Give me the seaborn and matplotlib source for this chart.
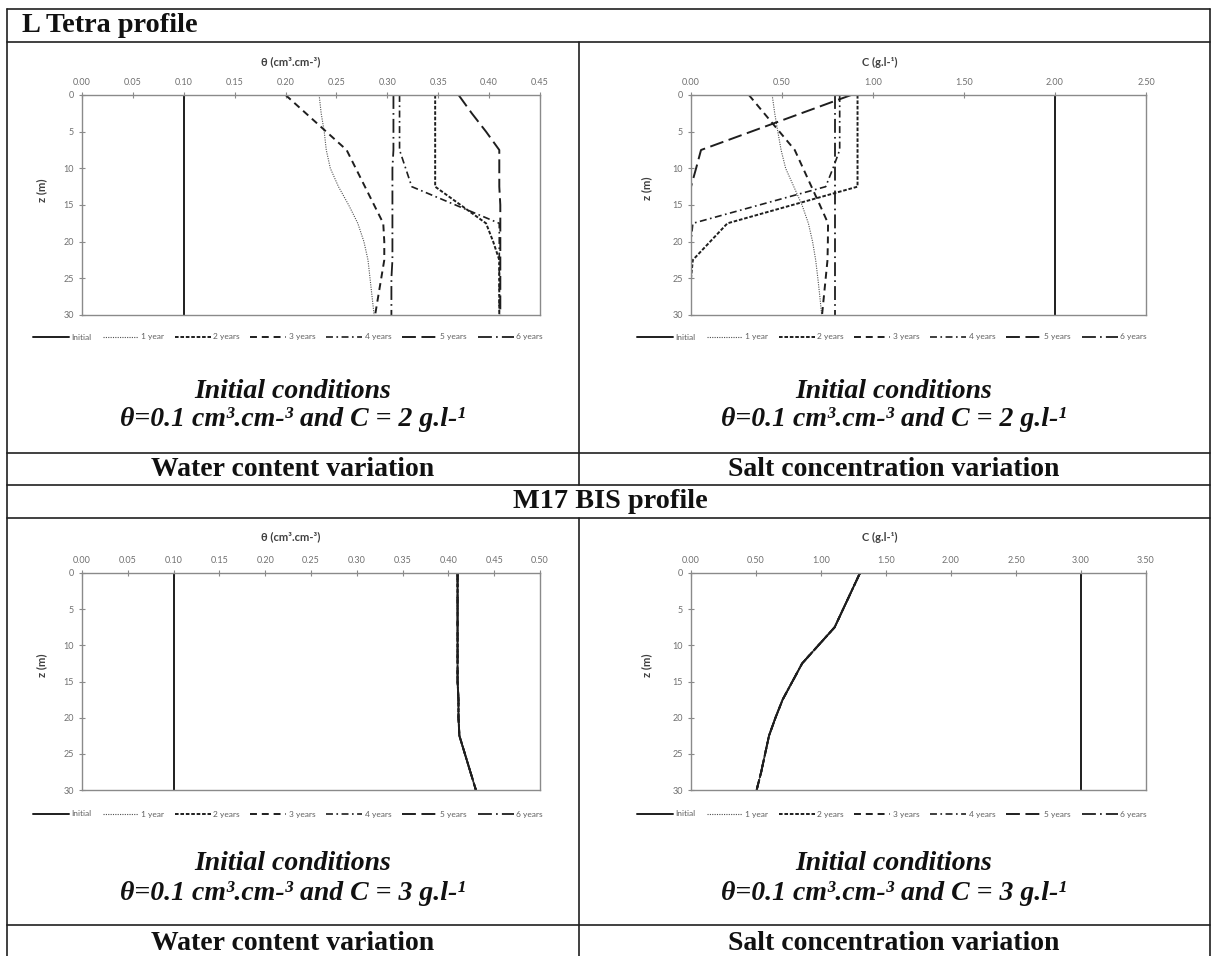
import matplotlib
matplotlib.use("Agg")
import matplotlib.pyplot as plt
import pandas as pd
import seaborn as sns
from matplotlib.lines import Line2D
from matplotlib.ticker import MultipleLocator, FormatStrFormatter

# ---------------- data ----------------
depth_m = [0, 2.5, 5, 7.5, 10, 12.5, 15, 17.5, 20, 22.5, 25, 27.5, 30]
series_labels = ["Initial", "1 year", "2 years", "3 years", "4 years", "5 years", "6 years"]

# L Tetra profile - water content theta (cm3.cm-3)
lt_theta_initial = [0.10, 0.10, 0.10, 0.10, 0.10, 0.10, 0.10, 0.10, 0.10, 0.10, 0.10, 0.10, 0.10]
lt_theta_1y = [0.233, 0.235, 0.238, 0.240, 0.244, 0.252, 0.262, 0.271, 0.277, 0.281, 0.283, 0.285, 0.287]
lt_theta_2y = [0.347, 0.347, 0.347, 0.347, 0.347, 0.347, 0.372, 0.397, 0.404, 0.410, 0.410, 0.410, 0.410]
lt_theta_3y = [0.200, 0.220, 0.240, 0.260, 0.269, 0.278, 0.287, 0.296, 0.297, 0.297, 0.294, 0.291, 0.288]
lt_theta_4y = [0.312, 0.312, 0.312, 0.312, 0.318, 0.324, 0.367, 0.410, 0.410, 0.410, 0.410, 0.410, 0.410]
lt_theta_5y = [0.370, 0.383, 0.397, 0.410, 0.410, 0.410, 0.411, 0.411, 0.411, 0.411, 0.411, 0.411, 0.411]
lt_theta_6y = [0.306, 0.306, 0.306, 0.306, 0.305, 0.305, 0.305, 0.305, 0.305, 0.305, 0.304, 0.304, 0.304]

# L Tetra profile - salt concentration C (g.l-1)
lt_c_initial = [2.0, 2.0, 2.0, 2.0, 2.0, 2.0, 2.0, 2.0, 2.0, 2.0, 2.0, 2.0, 2.0]
lt_c_1y = [0.446, 0.460, 0.477, 0.495, 0.520, 0.565, 0.610, 0.645, 0.668, 0.685, 0.697, 0.708, 0.718]
lt_c_2y = [0.915, 0.915, 0.915, 0.915, 0.915, 0.915, 0.557, 0.200, 0.105, 0.010, 0.000, 0.000, 0.000]
lt_c_3y = [0.318, 0.402, 0.486, 0.570, 0.616, 0.662, 0.708, 0.753, 0.752, 0.750, 0.740, 0.730, 0.720]
lt_c_4y = [0.817, 0.817, 0.817, 0.817, 0.780, 0.740, 0.375, 0.010, 0.000, 0.000, 0.000, 0.000, 0.000]
lt_c_5y = [0.880, 0.605, 0.330, 0.055, 0.028, 0.000, 0.000, 0.000, 0.000, 0.000, 0.000, 0.000, 0.000]
lt_c_6y = [0.790, 0.790, 0.790, 0.790, 0.790, 0.790, 0.790, 0.790, 0.790, 0.790, 0.790, 0.790, 0.790]

# M17 BIS profile (all years coincide)
m17_theta_initial = [0.10, 0.10, 0.10, 0.10, 0.10, 0.10, 0.10, 0.10, 0.10, 0.10, 0.10, 0.10, 0.10]
m17_theta_years = [0.410, 0.410, 0.410, 0.410, 0.410, 0.410, 0.410, 0.411, 0.411, 0.412, 0.418, 0.424, 0.430]
m17_c_initial = [3.0, 3.0, 3.0, 3.0, 3.0, 3.0, 3.0, 3.0, 3.0, 3.0, 3.0, 3.0, 3.0]
m17_c_years = [1.300, 1.235, 1.170, 1.105, 0.980, 0.855, 0.780, 0.705, 0.650, 0.600, 0.570, 0.540, 0.505]

# ---------------- style ----------------
sns.set_theme(style="white")
plt.rcParams['font.family'] = ['Lato', 'DejaVu Sans']
plt.rcParams['lines.scale_dashes'] = False

W, H = 1215, 956
fig = plt.figure(figsize=(W / 100, H / 100), dpi=100)


def fx(x):
    return x / W


def fy(y):
    return 1 - y / H


line_styles = {
    "Initial": dict(linestyle='-', linewidth=1.4, color='#1e1e1e'),
    "1 year": dict(linestyle=(0, (0.8, 0.9)), linewidth=0.8, color='#505050'),
    "2 years": dict(linestyle=(0, (2.6, 1.3)), linewidth=1.4, color='#1e1e1e'),
    "3 years": dict(linestyle=(0, (5, 3.5)), linewidth=1.4, color='#1e1e1e'),
    "4 years": dict(linestyle=(0, (5, 2.5, 1.2, 2.5)), linewidth=1.2, color='#1e1e1e'),
    "5 years": dict(linestyle=(0, (10, 4)), linewidth=1.4, color='#1e1e1e'),
    "6 years": dict(linestyle=(0, (10, 3, 1.2, 3)), linewidth=1.3, color='#1e1e1e'),
}

GRAY = '#8a8a8a'


def make_panel(x0, x1, y0, y1, xmax, xstep, series, xlabel, xlab_pos, zlab_pos, leg_pos):
    ax = fig.add_axes([fx(x0), fy(y1), fx(x1) - fx(x0), fy(y0) - fy(y1)])
    for name, vals in zip(series_labels, series):
        df = pd.DataFrame({"value": vals, "depth": depth_m})
        sns.lineplot(data=df, x="value", y="depth", orient="y", sort=False,
                     estimator=None, ax=ax, label=name, legend=False,
                     **line_styles[name])
    ax.set_xlim(0, xmax)
    ax.set_ylim(30, 0)
    ax.set_xlabel("")
    ax.set_ylabel("")
    ax.xaxis.tick_top()
    ax.xaxis.set_major_locator(MultipleLocator(xstep))
    ax.xaxis.set_major_formatter(FormatStrFormatter('%.2f'))
    ax.yaxis.set_major_locator(MultipleLocator(5))
    ax.yaxis.set_major_formatter(FormatStrFormatter('%d'))
    ax.tick_params(axis='x', top=True, bottom=False, labeltop=True, labelbottom=False)
    ax.tick_params(axis='y', left=True, right=False)
    ax.tick_params(axis='both', direction='inout', length=4, width=0.8, color=GRAY,
                   labelsize=6.5, labelcolor='#707070', pad=4)
    for sp in ax.spines.values():
        sp.set_visible(True)
        sp.set_color(GRAY)
        sp.set_linewidth(1.0)
    fig.text(fx(xlab_pos[0]), fy(xlab_pos[1]), xlabel, ha='center', va='center',
             fontsize=8, fontweight='bold', color='#404040')
    fig.text(fx(zlab_pos[0]), fy(zlab_pos[1]), "z (m)", ha='center', va='center',
             rotation=90, fontsize=8, fontweight='bold', color='#404040')
    ax.legend(loc='center', bbox_to_anchor=(fx(leg_pos[0]), fy(leg_pos[1])),
              bbox_transform=fig.transFigure, ncol=7, frameon=False, fontsize=6,
              handlelength=4.3, handletextpad=0.3, columnspacing=1.3,
              labelcolor='#606060', borderpad=0)
    return ax


# Top row: L Tetra
make_panel(82, 540, 95, 315, 0.45, 0.05,
           [lt_theta_initial, lt_theta_1y, lt_theta_2y, lt_theta_3y, lt_theta_4y, lt_theta_5y, lt_theta_6y],
           "θ (cm³.cm-³)", (291, 62), (42, 190), (288, 337))
make_panel(691, 1146, 95, 315, 2.5, 0.5,
           [lt_c_initial, lt_c_1y, lt_c_2y, lt_c_3y, lt_c_4y, lt_c_5y, lt_c_6y],
           "C (g.l-¹)", (880, 62), (647, 188), (892, 337))

# Bottom row: M17 BIS
make_panel(82, 540, 573, 790, 0.50, 0.05,
           [m17_theta_initial, m17_theta_years, m17_theta_years, m17_theta_years,
            m17_theta_years, m17_theta_years, m17_theta_years],
           "θ (cm³.cm-³)", (291, 537), (42, 665), (288, 814))
make_panel(691, 1146, 573, 790, 3.5, 0.5,
           [m17_c_initial, m17_c_years, m17_c_years, m17_c_years,
            m17_c_years, m17_c_years, m17_c_years],
           "C (g.l-¹)", (880, 537), (647, 665), (892, 814))

# ---------------- table grid ----------------
LC = '#202020'
LW = 1.2


def hline(y, x0=7, x1=1210):
    fig.add_artist(Line2D([fx(x0), fx(x1)], [fy(y), fy(y)], transform=fig.transFigure, color=LC, lw=LW))


def vline(x, y0, y1):
    fig.add_artist(Line2D([fx(x), fx(x)], [fy(y0), fy(y1)], transform=fig.transFigure, color=LC, lw=LW))


for yy in [9, 42, 453, 485, 518, 925]:
    hline(yy)
vline(7, 9, 956)
vline(1210, 9, 956)
vline(579, 42, 485)
vline(579, 518, 956)

# ---------------- table text ----------------
SERIF = 'Liberation Serif'
BIG = 20
fig.text(fx(22), fy(26), "L Tetra profile", ha='left', va='center', fontsize=20.3,
         fontweight='bold', family=SERIF, color='#111111')
fig.text(fx(610), fy(502), "M17 BIS profile", ha='center', va='center', fontsize=20.3,
         fontweight='bold', family=SERIF, color='#111111')

for cx, cap in [(293, "Water content variation"), (894, "Salt concentration variation")]:
    fig.text(fx(cx), fy(470), cap, ha='center', va='center', fontsize=BIG,
             fontweight='bold', family=SERIF, color='#111111')
    fig.text(fx(cx), fy(943), cap, ha='center', va='center', fontsize=BIG,
             fontweight='bold', family=SERIF, color='#111111')

for cx in [293, 894]:
    fig.text(fx(cx), fy(391), "Initial conditions", ha='center', va='center', fontsize=BIG,
             fontweight='bold', style='italic', family=SERIF, color='#111111')
    fig.text(fx(cx), fy(419), "θ=0.1 cm³.cm-³ and C = 2 g.l-¹", ha='center', va='center',
             fontsize=BIG, fontweight='bold', style='italic', family=SERIF, color='#111111')
    fig.text(fx(cx), fy(864), "Initial conditions", ha='center', va='center', fontsize=BIG,
             fontweight='bold', style='italic', family=SERIF, color='#111111')
    fig.text(fx(cx), fy(894), "θ=0.1 cm³.cm-³ and C = 3 g.l-¹", ha='center', va='center',
             fontsize=BIG, fontweight='bold', style='italic', family=SERIF, color='#111111')

fig.savefig("out.png", dpi=100, facecolor='white')
